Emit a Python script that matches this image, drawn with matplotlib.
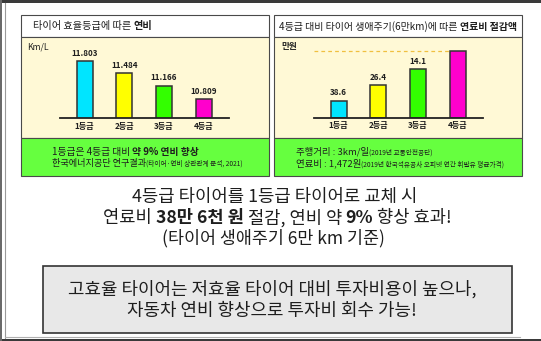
import matplotlib
matplotlib.use("Agg")
import matplotlib.pyplot as plt
from matplotlib.patches import Rectangle
from matplotlib.offsetbox import TextArea, HPacker, AnnotationBbox

plt.rcParams['font.family'] = ['Noto Sans CJK KR', 'DejaVu Sans']

# 데이터
grades = ['1등급', '2등급', '3등급', '4등급']
mileage = [11.803, 11.484, 11.166, 10.809]          # km/L
saving = [38.6, 26.4, 14.1, 0.0]                    # 만원, 4등급 대비
saving_labels = ['38.6', '26.4', '14.1', '']
base_level = 52.3                                   # 4등급 연료비 막대 기준 높이
bar_colors = ['#00E5FF', '#FFFF00', '#33FF00', '#FF00CC']

W, H = 541, 341
CREAM = '#FFF9D6'
LIME = '#66FF3F'
EDGE = '#4a4a4a'
TXT = '#1e1e1e'

fig = plt.figure(figsize=(W / 100, H / 100), dpi=100)
fig.patch.set_facecolor('white')

# 전체 배경용 축 (픽셀 좌표)
bg = fig.add_axes([0, 0, 1, 1])
bg.set_xlim(0, W)
bg.set_ylim(H, 0)
bg.axis('off')


def px_box(x0, y0, x1, y1):
    return [x0 / W, 1 - y1 / H, (x1 - x0) / W, (y1 - y0) / H]


def rect(x0, y0, x1, y1, fc, ec=EDGE, lw=0.8, z=1):
    bg.add_patch(Rectangle((x0, y0), x1 - x0, y1 - y0, facecolor=fc,
                           edgecolor=ec, linewidth=lw, zorder=z))


def rich(x, y, parts, align='left'):
    boxes = [TextArea(s, textprops=dict(color=TXT, **kw)) for s, kw in parts]
    pack = HPacker(children=boxes, align='baseline', pad=0, sep=0)
    ax_ = 0.0 if align == 'left' else 0.5
    ab = AnnotationBbox(pack, (x, y), xycoords='data', box_alignment=(ax_, 0.5),
                        frameon=False, pad=0, zorder=5)
    bg.add_artist(ab)


# 바깥 테두리
bg.add_patch(Rectangle((0, 0), W, 3, facecolor='#3a3a3a', edgecolor='none'))
bg.add_patch(Rectangle((0, H - 2.5), W, 2.5, facecolor='#3a3a3a', edgecolor='none'))
bg.add_patch(Rectangle((0, 0), 2, H, facecolor='#6a6a6a', edgecolor='none'))
bg.plot([5, 5], [3, H - 3], color='#9a9a9a', lw=0.8)
bg.plot([5, 520], [H - 4, H - 4], color='#b0b0b0', lw=0.8)

# 패널 두 개
for x0, x1 in [(20.7, 269), (274, 522)]:
    rect(x0, 15, x1, 37.3, 'white')
    rect(x0, 37.3, x1, 138.3, CREAM)
    rect(x0, 138.3, x1, 175.5, LIME)

# 패널 제목
rich(33, 26.5, [('타이어 효율등급에 따른 ', dict(fontsize=7.3)),
                ('연비', dict(fontsize=7.3, fontweight='bold'))])
rich(279, 26.5, [('4등급 대비 타이어 생애주기(6만km)에 따른 ', dict(fontsize=7.2)),
                 ('연료비 절감액', dict(fontsize=7.2, fontweight='bold'))])

bg.text(26.7, 46.7, 'Km/L', fontsize=6.2, color=TXT, va='center', ha='left')
bg.text(281.7, 46.5, '만원', fontsize=6.2, color=TXT, va='center', ha='left',
        fontweight='bold')

# 녹색 설명 영역
rich(51.7, 151.7, [('1등급은 4등급 대비 ', dict(fontsize=7)),
                   ('약 9% 연비 향상', dict(fontsize=7, fontweight='bold'))])
rich(51.7, 163.5, [('한국에너지공단 연구결과', dict(fontsize=6.6)),
                   ('(타이어·연비 상관관계 분석, 2021)', dict(fontsize=4.8))])
rich(296, 151.7, [('주행거리 : 3km/일', dict(fontsize=6.8)),
                  ('(2019년 교통안전공단)', dict(fontsize=4.8))])
rich(296, 163.5, [('연료비 : 1,472원', dict(fontsize=6.8)),
                  ('(2019년 한국석유공사 오피넷 연간 휘발유 평균가격)', dict(fontsize=4.8))])


def style_axis(ax):
    ax.set_facecolor('none')
    for s in ['top', 'right', 'left']:
        ax.spines[s].set_visible(False)
    ax.spines['bottom'].set_color('#222222')
    ax.spines['bottom'].set_linewidth(1.3)
    ax.set_yticks([])
    ax.set_xticks(range(len(grades)))
    ax.set_xticklabels(grades, fontsize=5.8, fontweight='bold', color=TXT)
    ax.tick_params(axis='x', length=0, pad=2.5)
    ax.set_xlim(-0.62, 3.64)


# 왼쪽: 등급별 연비
ax1 = fig.add_axes(px_box(60, 40, 229, 118.3))
style_axis(ax1)
b1 = ax1.bar(range(len(grades)), mileage, width=0.4, color=bar_colors,
             edgecolor='#333333', linewidth=1.1)
ax1.set_ylim(10.311, 10.311 + 78.3 / 38.3)
ax1.bar_label(b1, labels=[f'{v:.3f}' for v in mileage],
              padding=2.5, fontsize=5.8, fontweight='bold', color=TXT)

# 오른쪽: 4등급 대비 연료비 절감액
ax2 = fig.add_axes(px_box(314, 40, 483, 118))
style_axis(ax2)
heights = [base_level - s for s in saving]
b2 = ax2.bar(range(len(grades)), heights, width=0.4, color=bar_colors,
             edgecolor='#333333', linewidth=1.1)
ax2.set_ylim(0, 78 / 1.272)
ax2.plot([-0.62, 2.78], [base_level, base_level], color='#F0C040', lw=0.9,
         ls=(0, (3, 2.5)))
ax2.bar_label(b2, labels=saving_labels, padding=2.5, fontsize=5.8,
              fontweight='bold', color=TXT)

# 하단 요약 문구
bg.text(274.5, 197, '4등급 타이어를 1등급 타이어로 교체 시', fontsize=12.8,
        color=TXT, ha='center', va='center')
rich(277.5, 218, [('연료비 ', dict(fontsize=12.7)),
                  ('38만 6천 원', dict(fontsize=12.7, fontweight='bold')),
                  (' 절감, 연비 약 ', dict(fontsize=12.7)),
                  ('9%', dict(fontsize=12.7, fontweight='bold')),
                  (' 향상 효과!', dict(fontsize=12.7))], align='center')
bg.text(273, 238, '(타이어 생애주기 6만 km 기준)', fontsize=12.5,
        color=TXT, ha='center', va='center')

rect(43, 266, 512, 332.5, '#E8E8E8', ec='#333333', lw=1.2)
bg.text(272, 289, '고효율 타이어는 저효율 타이어 대비 투자비용이 높으나,',
        fontsize=12.9, color=TXT, ha='center', va='center')
bg.text(272, 311, '자동차 연비 향상으로 투자비 회수 가능!',
        fontsize=12.9, color=TXT, ha='center', va='center')

fig.savefig('out.png', dpi=100)
